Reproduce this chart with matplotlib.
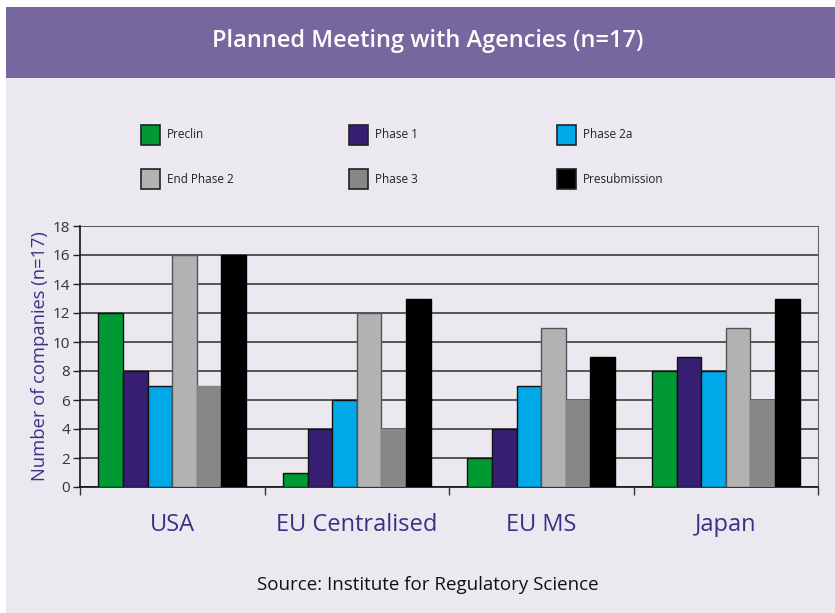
import matplotlib
matplotlib.use("Agg")
import matplotlib.pyplot as plt
import numpy as np
from matplotlib.patches import Rectangle

plt.rcParams["font.family"] = ["Open Sans", "DejaVu Sans"]

regions = ["USA", "EU Centralised", "EU MS", "Japan"]
phases = ["Preclin", "Phase 1", "Phase 2a", "End Phase 2", "Phase 3", "Presubmission"]
preclin = [12, 1, 2, 8]
phase1 = [8, 4, 4, 9]
phase2a = [7, 6, 7, 8]
end_phase2 = [16, 12, 11, 11]
phase3 = [7, 4, 6, 6]
presub = [16, 13, 9, 13]
y_ticks = [0, 2, 4, 6, 8, 10, 12, 14, 16, 18]

series = [preclin, phase1, phase2a, end_phase2, phase3, presub]
colors = ["#009933", "#361f73", "#00a8e8", "#b2b2b2", "#878787", "#000000"]
edges = ["#111111", "#111111", "#111111", "#555555", "#878787", "#000000"]

W, H = 835, 613
fig = plt.figure(figsize=(W / 100, H / 100), dpi=100)
fig.patch.set_facecolor("white")

bg = "#ece8ef"
purple = "#76689f"
fig.add_artist(Rectangle((6 / W, 0), 1, (H - 78) / H, transform=fig.transFigure,
                         facecolor=bg, edgecolor="none", zorder=0))
fig.add_artist(Rectangle((6 / W, (H - 78) / H), 1, 71 / H, transform=fig.transFigure,
                         facecolor=purple, edgecolor="none", zorder=0))
fig.text(428 / W, 1 - 41 / H, "Planned Meeting with Agencies (n=17)", color="white",
         fontsize=17, fontweight="semibold", ha="center", va="center")

# legend, drawn by hand in a 3x2 grid
for k, (name, c, ec) in enumerate(zip(phases, colors, edges)):
    col, row = k % 3, k // 3
    x0 = 141 + 208 * col
    yc = 135 + 44 * row
    fig.add_artist(Rectangle((x0 / W, 1 - (yc + 10) / H), 19 / W, 20 / H,
                             transform=fig.transFigure, facecolor=c,
                             edgecolor="#222222", linewidth=1.2))
    fig.text((x0 + 26) / W, 1 - yc / H, name, fontsize=8.5, color="#222222",
             ha="left", va="center")

ax = fig.add_axes([80 / W, (H - 487) / H, (818 - 80) / W, (487 - 226) / H])
ax.set_facecolor(bg)

n = len(series)
bw = 0.8 / n
x = np.arange(len(regions)) + 0.5
for j, (vals, c, ec) in enumerate(zip(series, colors, edges)):
    ax.bar(x - 0.4 + bw * (j + 0.5), vals, bw, color=c, edgecolor=ec,
           linewidth=1.0, zorder=3)

ax.set_xlim(0, len(regions))
ax.set_ylim(0, 18)
ax.set_yticks(y_ticks)
ax.yaxis.grid(True, color="#4a4a4a", linewidth=1.3, zorder=0)
ax.set_axisbelow(True)
ax.tick_params(axis="y", direction="out", length=5, width=1, color="#222222",
               labelsize=11, labelcolor="#333333", pad=2)

ax.set_xticks(np.arange(len(regions) + 1))
ax.set_xticklabels([])
ax.tick_params(axis="x", direction="out", length=6, width=1, color="#333333")
ax.set_xticks(x, minor=True)
ax.set_xticklabels(regions, minor=True)
ax.tick_params(axis="x", which="minor", length=0, pad=19, labelsize=17,
               labelcolor="#3d2f86")

ax.spines["top"].set_visible(False)
ax.spines["left"].set_color("#111111")
ax.spines["bottom"].set_color("#111111")
ax.spines["right"].set_color("#666666")
ax.spines["left"].set_linewidth(1.2)
ax.spines["bottom"].set_linewidth(1.2)

ax.set_ylabel("Number of companies (n=17)", fontsize=13.2, color="#3d2f86", labelpad=3)

fig.text(428 / W, 1 - 585 / H, "Source: Institute for Regulatory Science",
         fontsize=13.5, color="#111111", ha="center", va="center")

fig.savefig("out.png", dpi=100, facecolor=fig.get_facecolor())
